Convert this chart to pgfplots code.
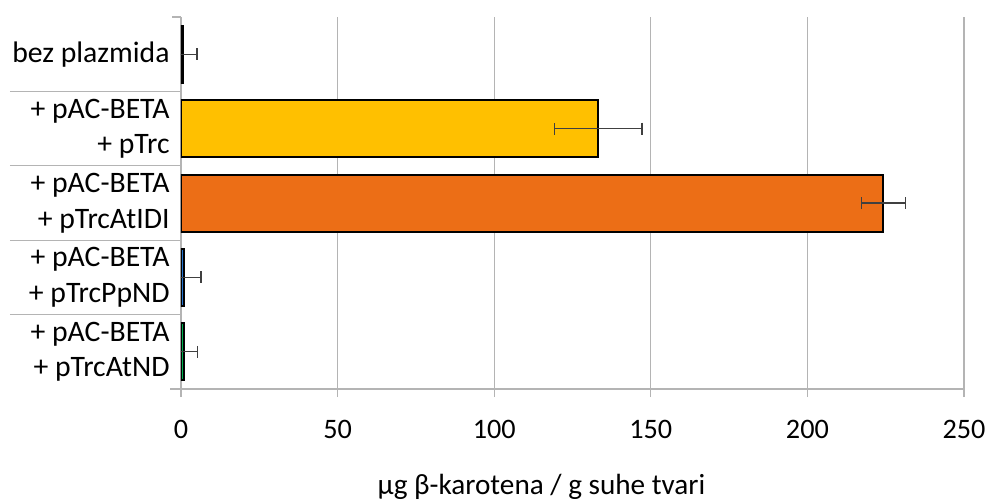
\documentclass[border=0pt]{standalone}
\usepackage{pgfplots}
\pgfplotsset{compat=1.18}
\usepackage{fontspec}
\setmainfont{Carlito}
\definecolor{cyellow}{HTML}{FFC000}
\definecolor{corange}{HTML}{EC6E16}
\definecolor{cblue}{HTML}{2474CF}
\definecolor{cgreen}{HTML}{00B050}
\definecolor{cgrid}{HTML}{B4B4B4}
\definecolor{cerr}{HTML}{404040}
\begin{document}
\fontsize{14}{17.5}\selectfont
\begin{tikzpicture}
\path[use as bounding box] (-90.5pt,-55.5pt) rectangle (404.5pt,194.5pt);
\begin{axis}[
  at={(0,0)}, anchor=south west,
  scale only axis, width=391.5pt, height=186pt,
  xmin=0, xmax=250, ymin=-0.5, ymax=4.5, y dir=reverse,
  xtick={0,50,...,250},
  ytick={0,1,2,3,4},
  yticklabels={bez plazmida, {+ pAC-BETA\\+ pTrc}, {+ pAC-BETA\\+ pTrcAtIDI}, {+ pAC-BETA\\+ pTrcPpND}, {+ pAC-BETA\\+ pTrcAtND}},
  yticklabel style={align=right, anchor=east, inner sep=0pt, xshift=-1.5pt, font=\fontsize{14.85}{17.8}\selectfont},
  xticklabel style={anchor=center, inner sep=0pt, yshift=-16pt, font=\fontsize{14.1}{17}\selectfont},
  /pgf/number format/assume math mode=true,
  axis x line*=bottom, axis y line*=left,
  axis line style={cgrid, line width=0.6pt, -},
  x axis line style={cgrid}, 
  xmajorgrids, grid style={cgrid, line width=0.6pt},
  xtick align=outside, major tick length=4pt,
  xtick style={cgrid, line width=0.6pt},
  ytick style={draw=none},
  xlabel={µg β-karotena / g suhe tvari},
  xlabel style={at={(axis description cs:0.5,0)}, anchor=center, yshift=-49pt, xshift=-15.5pt, font=\fontsize{14.6}{17}\selectfont},
  xbar, bar width=28.5pt, bar shift=0pt,
  error bars/error bar style={cerr, line width=0.6pt},
  error bars/error mark options={rotate=90, mark size=3pt, cerr, line width=0.6pt},
]
\addplot[draw=black, line width=1pt, fill=white, error bars/.cd, x dir=both, x explicit]
  coordinates {(0.6,0) +- (4.5,0)};
\addplot[draw=black, line width=1pt, fill=cyellow, error bars/.cd, x dir=both, x explicit]
  coordinates {(133.2,1) +- (14,0)};
\addplot[draw=black, line width=1pt, fill=corange, error bars/.cd, x dir=both, x explicit]
  coordinates {(224.2,2) +- (7,0)};
\addplot[draw=black, line width=1pt, fill=cblue, error bars/.cd, x dir=both, x explicit]
  coordinates {(0.9,3) +- (5.5,0)};
\addplot[draw=black, line width=1pt, fill=cgreen, error bars/.cd, x dir=both, x explicit]
  coordinates {(1.0,4) +- (4.3,0)};
\end{axis}
\begin{scope}[cgrid, line width=0.6pt]
\draw (-4.5pt,186pt) -- (0,186pt);
\foreach \k in {1,2,3,4} { \draw (-85.5pt,37.2*\k pt) -- (0,37.2*\k pt); }
\draw (-5.5pt,0) -- (0,0);
\end{scope}
\end{tikzpicture}
\end{document}
